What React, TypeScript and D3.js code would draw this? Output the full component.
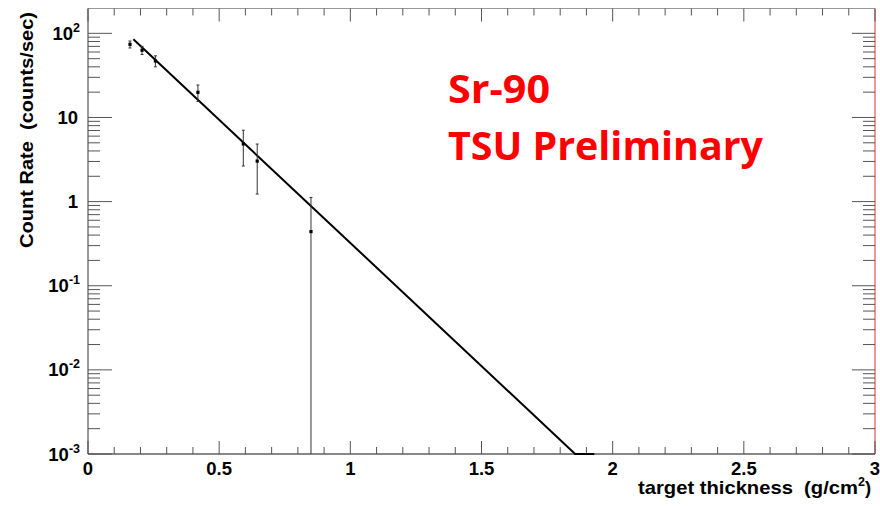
import React from "react";
import * as d3 from "d3";

// Measured data points (target thickness in g/cm^2, count rate in counts/sec)
const thickness = [0.16, 0.206, 0.257, 0.419, 0.592, 0.645, 0.85];
const rate = [74, 63, 47, 19.9, 4.85, 3.03, 0.44];
const rateErr = [7, 7, 7, 4.4, 2.2, 1.8, 0.68];

// Exponential fit (straight on log scale): end points
const fitX = [0.173, 1.857, 1.93];
const fitY = [85, 0.001, 0.001];

const xTicks = [0, 0.5, 1, 1.5, 2, 2.5, 3];
const xTickLabels = ["0", "0.5", "1", "1.5", "2", "2.5", "3"];
const yDecades = [-3, -2, -1, 0, 1, 2];
const yTickBase = ["10", "10", "10", "1", "10", "10"];
const yTickExp = ["-3", "-2", "-1", "", "", "2"];

const W = 880;
const H = 506;
const L = 88, R = 875, T = 8.5, B = 454;
const Y_MAX = Math.pow(10, 2 + 24.8 / 84);

export default function App() {
  const x = d3.scaleLinear().domain([0, 3]).range([L, R]);
  const y = d3.scaleLog().domain([1e-3, Y_MAX]).range([B, T]);
  const yc = (v: number) => (v <= 1e-3 ? B : y(v));

  const xMinor = d3.range(0, 3.0001, 0.1).filter((v) => Math.abs(v * 2 - Math.round(v * 2)) > 1e-6);
  const yMinor: number[] = [];
  for (let e = -3; e <= 2; e++) {
    for (let m = 2; m <= 9; m++) {
      const v = m * Math.pow(10, e);
      if (v < Y_MAX) yMinor.push(v);
    }
  }

  const fitLine = d3
    .line<number>()
    .x((_, i) => x(fitX[i]))
    .y((_, i) => yc(fitY[i]))(fitX);

  const tickColor = "#555";
  const font = "'Liberation Sans', Arial, sans-serif";
  const fs = 18.5;
  const sup = 12.5;

  return (
    <svg
      width={W}
      height={H}
      style={{ position: "absolute", left: 0, top: 0, background: "#fff" }}
    >
      {/* frame */}
      <line x1={L} y1={T} x2={R} y2={T} stroke="#999" strokeWidth={1} />
      <line x1={L} y1={T} x2={L} y2={B} stroke="#333" strokeWidth={1} />
      <line x1={L} y1={B} x2={R} y2={B} stroke="#111" strokeWidth={1.2} />
      <line x1={R} y1={T} x2={R} y2={B} stroke="#e03030" strokeWidth={1} />

      {/* x ticks */}
      {xTicks.map((v) => (
        <g key={"xt" + v}>
          <line x1={x(v)} x2={x(v)} y1={B} y2={B - 13} stroke={tickColor} />
          <line x1={x(v)} x2={x(v)} y1={T} y2={T + 13} stroke={tickColor} />
        </g>
      ))}
      {xMinor.map((v) => (
        <g key={"xm" + v}>
          <line x1={x(v)} x2={x(v)} y1={B} y2={B - 7} stroke={tickColor} />
          <line x1={x(v)} x2={x(v)} y1={T} y2={T + 7} stroke={tickColor} />
        </g>
      ))}
      {xTicks.map((v, i) => (
        <text
          key={"xl" + v}
          x={x(v)}
          y={475}
          textAnchor="middle"
          fontFamily={font}
          fontWeight="bold"
          fontSize={fs}
          fill="#000"
        >
          {xTickLabels[i]}
        </text>
      ))}

      {/* y ticks */}
      {yDecades.map((e) => {
        const py = y(Math.pow(10, e));
        return (
          <g key={"yt" + e}>
            <line x1={L} x2={L + 24} y1={py} y2={py} stroke={tickColor} />
            <line x1={R} x2={R - 23} y1={py} y2={py} stroke={tickColor} />
          </g>
        );
      })}
      {yMinor.map((v) => (
        <g key={"ym" + v}>
          <line x1={L} x2={L + 12} y1={y(v)} y2={y(v)} stroke={tickColor} />
          <line x1={R} x2={R - 12} y1={y(v)} y2={y(v)} stroke={tickColor} />
        </g>
      ))}
      {yDecades.map((e, i) => (
        <text
          key={"yl" + e}
          x={yTickExp[i] ? 80 : 78}
          y={y(Math.pow(10, e)) + 6.5}
          textAnchor="end"
          fontFamily={font}
          fontWeight="bold"
          fontSize={fs}
          fill="#000"
        >
          {yTickBase[i]}
          {yTickExp[i] ? (
            <tspan dy={-8} fontSize={sup}>
              {yTickExp[i]}
            </tspan>
          ) : null}
        </text>
      ))}

      {/* axis titles */}
      <text
        x={638}
        y={494}
        textAnchor="start"
        fontFamily={font}
        fontWeight="bold"
        fontSize={fs}
        fill="#000"
        style={{ whiteSpace: "pre" }}
      >
        <tspan textLength={220} lengthAdjust="spacingAndGlyphs">{"target thickness  (g/cm"}</tspan>
        <tspan dy={-8} fontSize={sup}>2</tspan>
        <tspan dy={8}>)</tspan>
      </text>
      <text
        transform="translate(33,12) rotate(-90)"
        textAnchor="end"
        fontFamily={font}
        fontWeight="bold"
        fontSize={fs}
        fill="#000"
        textLength={236}
        lengthAdjust="spacingAndGlyphs"
        style={{ whiteSpace: "pre" }}
      >
        {"Count Rate  (counts/sec)"}
      </text>

      {/* fit */}
      <path d={fitLine || ""} fill="none" stroke="#000" strokeWidth={2} />

      {/* data with error bars */}
      {thickness.map((t, i) => {
        const px = x(t);
        const lo = rate[i] - rateErr[i];
        const hi = rate[i] + rateErr[i];
        const pyLo = lo > 1e-3 ? y(lo) : B;
        const pyHi = y(hi);
        return (
          <g key={"pt" + i}>
            <line x1={px} x2={px} y1={pyLo} y2={pyHi} stroke="#333" strokeWidth={1} />
            <line x1={px - 1.5} x2={px + 1.5} y1={pyHi} y2={pyHi} stroke="#333" strokeWidth={1} />
            {lo > 1e-3 ? (
              <line x1={px - 1.5} x2={px + 1.5} y1={pyLo} y2={pyLo} stroke="#333" strokeWidth={1} />
            ) : null}
            <rect x={px - 1.6} y={y(rate[i]) - 1.6} width={3.2} height={3.2} fill="#000" />
          </g>
        );
      })}

      {/* annotation */}
      <text
        x={448}
        y={103}
        fontFamily="'Open Sans', sans-serif"
        fontWeight="bold"
        fontSize={40}
        fill="#ff0000"
        textLength={102}
        lengthAdjust="spacingAndGlyphs"
      >
        Sr-90
      </text>
      <text
        x={448}
        y={160}
        fontFamily="'Open Sans', sans-serif"
        fontWeight="bold"
        fontSize={40}
        fill="#ff0000"
        textLength={315}
        lengthAdjust="spacingAndGlyphs"
      >
        TSU Preliminary
      </text>
    </svg>
  );
}
